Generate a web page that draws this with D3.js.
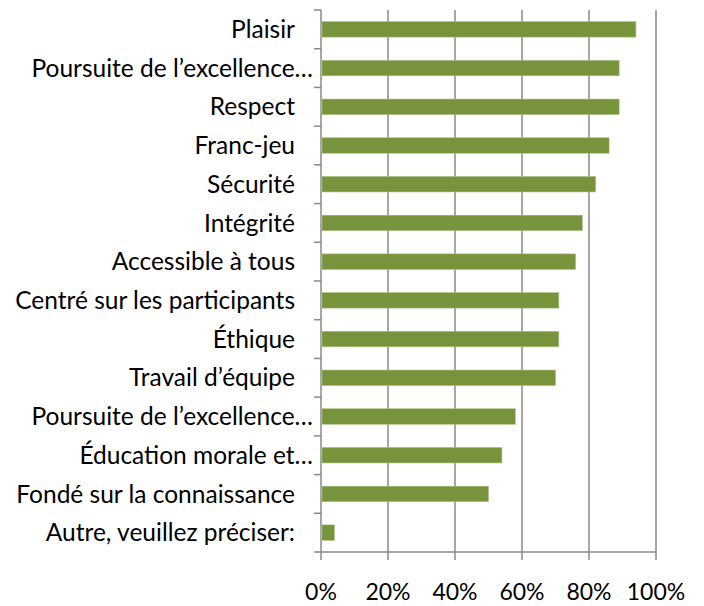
<!DOCTYPE html>
<html><head><meta charset="utf-8">
<script src="https://cdn.jsdelivr.net/npm/d3@7"></script>
<style>body{margin:0;background:#fff}svg{display:block}</style>
</head><body>
<script>
const categories = ["Plaisir","Poursuite de l’excellence…","Respect","Franc-jeu","Sécurité","Intégrité","Accessible à tous","Centré sur les participants","Éthique","Travail d’équipe","Poursuite de l’excellence…","Éducation morale et…","Fondé sur la connaissance","Autre, veuillez préciser:"];
const values = [94,89,89,86,82,78,76,71,71,70,58,54,50,4];
const tickValues = [0,20,40,60,80,100];
const tickLabels = ["0%","20%","40%","60%","80%","100%"];

const W=704,H=606;
const m={left:321,right:48,top:10,bottom:54};
const svg=d3.select("body").append("svg").attr("width",W).attr("height",H);
const x=d3.scaleLinear().domain([0,100]).range([m.left,W-m.right]);
const y=d3.scaleBand().domain(categories.map((c,i)=>i)).range([m.top,H-m.bottom]).paddingInner(0.6).paddingOuter(0.3);
const yb=d3.scaleBand().domain(categories.map((c,i)=>i)).range([m.top,H-m.bottom]);
const grid="#898989";
const font="Lato, 'Open Sans', sans-serif";
// gridlines
svg.append("g").selectAll("line").data(tickValues).join("line")
 .attr("x1",d=>x(d)).attr("x2",d=>x(d)).attr("y1",m.top).attr("y2",H-m.bottom+8)
 .attr("stroke",grid).attr("stroke-width",1.5);
// left axis ticks at band boundaries
const bounds=categories.map((c,i)=>yb(i)).concat([H-m.bottom]);
svg.append("g").selectAll("line").data(bounds).join("line")
 .attr("x1",m.left-7).attr("x2",m.left).attr("y1",d=>d).attr("y2",d=>d)
 .attr("stroke",grid).attr("stroke-width",1.5);
// bottom axis line
svg.append("line").attr("x1",m.left).attr("x2",x(100)).attr("y1",H-m.bottom).attr("y2",H-m.bottom).attr("stroke",grid).attr("stroke-width",1.5);
// bars
svg.append("g").selectAll("rect").data(values).join("rect")
 .attr("x",x(0)+1).attr("y",(d,i)=>y(i)).attr("width",d=>x(d)-x(0)-1).attr("height",y.bandwidth())
 .attr("fill","#77933C").attr("stroke","#a9c07e").attr("stroke-width",0.6);
// category labels
svg.append("g").selectAll("text").data(categories).join("text")
 .attr("x",d=>d.endsWith("…")?m.left-8:m.left-26)
 .attr("y",(d,i)=>yb(i)+yb.bandwidth()/2)
 .attr("dy","0.35em").attr("text-anchor","end")
 .style("font-family",font).style("font-size","24.5px").attr("fill","#000")
 .text(d=>d);
// x tick labels
svg.append("g").selectAll("text").data(tickValues).join("text")
 .attr("x",d=>x(d)).attr("y",600).attr("text-anchor","middle")
 .style("font-family",font).style("font-size","23px").attr("fill","#000")
 .text((d,i)=>tickLabels[i]);
</script>
</body></html>
